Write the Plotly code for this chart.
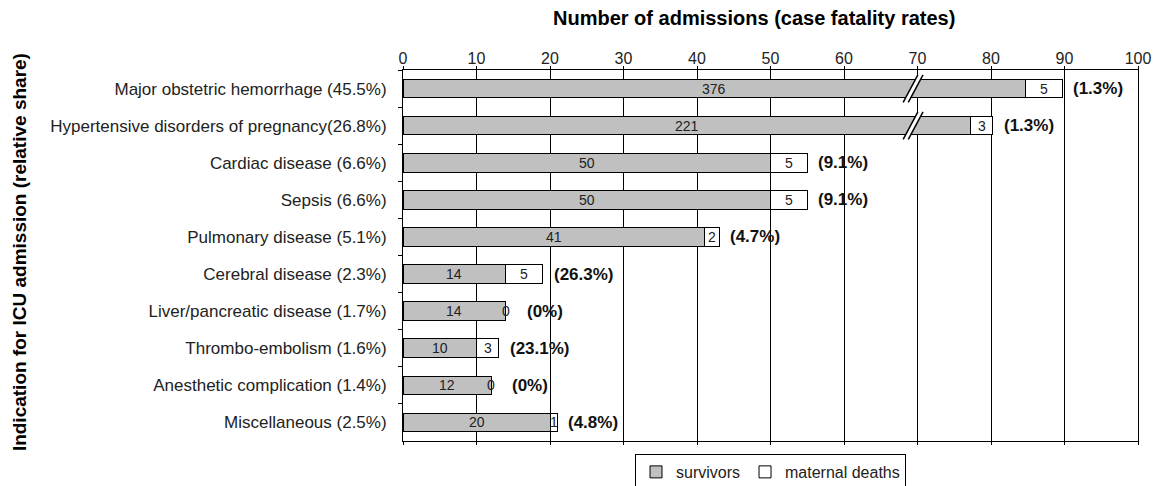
import plotly.graph_objects as go

# ---- data ----
categories = [
    "Major obstetric hemorrhage (45.5%)",
    "Hypertensive disorders of pregnancy(26.8%)",
    "Cardiac disease (6.6%)",
    "Sepsis (6.6%)",
    "Pulmonary disease (5.1%)",
    "Cerebral disease (2.3%)",
    "Liver/pancreatic disease (1.7%)",
    "Thrombo-embolism (1.6%)",
    "Anesthetic complication (1.4%)",
    "Miscellaneous (2.5%)",
]
survivors = [376, 221, 50, 50, 41, 14, 14, 10, 12, 20]
maternal_deaths = [5, 3, 5, 5, 2, 5, 0, 3, 0, 1]
x_ticks = [0, 10, 20, 30, 40, 50, 60, 70, 80, 90, 100]

# broken axis: values beyond the break are compressed
BREAK = 70
COMPRESS = 0.048


def axis_len(v):
    return v if v <= BREAK else BREAK + (v - BREAK) * COMPRESS


surv_drawn = [axis_len(v) for v in survivors]
totals = [s + d for s, d in zip(surv_drawn, maternal_deaths)]
fatality = [
    "(0%)" if d == 0 else "(%.1f%%)" % (100.0 * d / (s + d))
    for s, d in zip(survivors, maternal_deaths)
]

FONT = "Liberation Sans, Arial, sans-serif"
GRAY = "#c0c0c0"

fig = go.Figure()
fig.add_trace(go.Bar(
    y=categories, x=surv_drawn, orientation="h", name="survivors",
    marker=dict(color=GRAY, line=dict(color="black", width=1)),
    width=0.5, hoverinfo="skip",
))
fig.add_trace(go.Bar(
    y=categories, x=maternal_deaths, orientation="h", name="maternal deaths",
    marker=dict(color="white", line=dict(color="black", width=1)),
    width=0.5, hoverinfo="skip",
))

annotations = []
for i, cat in enumerate(categories):
    annotations.append(dict(
        x=surv_drawn[i] / 2, y=cat, text=str(survivors[i]), showarrow=False,
        font=dict(family=FONT, size=14, color="#222222"),
    ))
    annotations.append(dict(
        x=surv_drawn[i] + maternal_deaths[i] / 2, y=cat,
        text=str(maternal_deaths[i]), showarrow=False,
        font=dict(family=FONT, size=14, color="#222222"),
    ))
    annotations.append(dict(
        x=totals[i], y=cat, text="<b>%s</b>" % fatality[i], showarrow=False,
        xanchor="left", xshift=19 if maternal_deaths[i] == 0 else 9,
        font=dict(family=FONT, size=17, color="#111111"),
    ))

annotations.append(dict(
    xref="paper", yref="paper", x=0.477, y=1.0, yshift=52, yanchor="middle",
    xanchor="center",
    text="<b>Number of admissions (case fatality rates)</b>", showarrow=False,
    font=dict(family=FONT, size=20, color="black"),
))
annotations.append(dict(
    xref="paper", yref="paper", x=-0.522, y=0.51, textangle=-90,
    xanchor="center", yanchor="middle",
    text="<b>Indication for ICU admission (relative share)</b>", showarrow=False,
    font=dict(family=FONT, size=19, color="black"),
))

# axis-break marks ("//") on bars that exceed the break
shapes = []
for i, v in enumerate(survivors):
    if v > BREAK:
        c = BREAK - 0.6
        h = 0.37
        w = 1.0
        g = 0.7
        xa_b, xa_t = c - w - g / 2, c + w - g / 2
        xb_b, xb_t = c - w + g / 2, c + w + g / 2
        shapes.append(dict(
            type="path", xref="x", yref="y",
            path="M %f,%f L %f,%f L %f,%f L %f,%f Z" % (
                xa_b, i + h, xa_t, i - h, xb_t, i - h, xb_b, i + h),
            fillcolor="white", line=dict(width=0), layer="above",
        ))
        for xb, xt in [(xa_b, xa_t), (xb_b, xb_t)]:
            shapes.append(dict(
                type="line", xref="x", yref="y", x0=xb, y0=i + h, x1=xt, y1=i - h,
                line=dict(color="black", width=1.5), layer="above",
            ))

# page body has an 8px default margin -> figure is 8px smaller than window
fig.update_layout(
    width=1152, height=478,
    margin=dict(l=395, r=22, t=62, b=45, autoexpand=False),
    barmode="stack", bargap=0.5,
    plot_bgcolor="white", paper_bgcolor="white",
    font=dict(family=FONT, size=16, color="#222222"),
    showlegend=True,
    legend=dict(
        orientation="h", x=0.5, xanchor="center", y=-0.035, yanchor="top",
        bordercolor="black", borderwidth=1,
        font=dict(family=FONT, size=16, color="#222222"),
        traceorder="normal",
    ),
    annotations=annotations, shapes=shapes,
)
fig.update_xaxes(
    side="top", range=[0, 100], tickvals=x_ticks,
    ticks="outside", ticklen=3, tickcolor="black",
    showline=True, linecolor="black", linewidth=1, mirror="ticks",
    showgrid=True, gridcolor="black", gridwidth=1, zeroline=False,
    tickfont=dict(family=FONT, size=16, color="#222222"),
    ticklabelstandoff=-4, automargin=False,
)
fig.update_yaxes(
    categoryorder="array", categoryarray=categories, autorange="reversed",
    tickson="boundaries", ticks="outside", ticklen=4, tickcolor="black",
    showline=True, linecolor="black", linewidth=1, mirror=True,
    showgrid=False, zeroline=False,
    tickfont=dict(family=FONT, size=17, color="#222222"),
    ticklabelstandoff=12, automargin=False,
)

fig.write_html("out.html")
